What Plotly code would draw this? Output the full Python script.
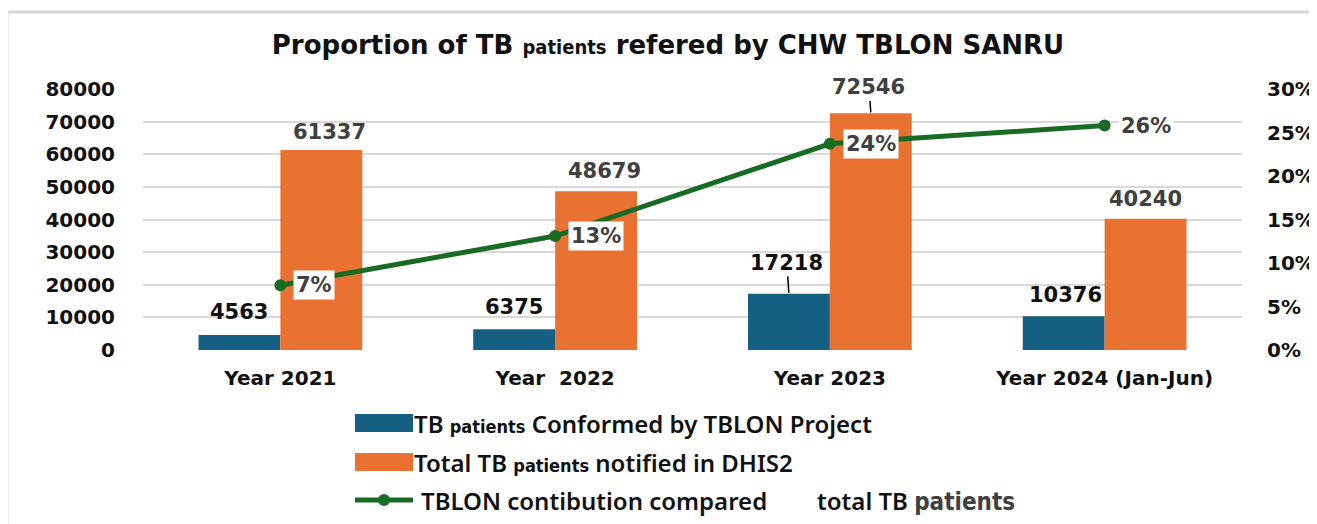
import plotly.graph_objects as go

categories = ["Year 2021", "Year\u00a0 2022", "Year 2023", "Year 2024 (Jan-Jun)"]
confirmed = [4563, 6375, 17218, 10376]
notified = [61337, 48679, 72546, 40240]
contribution = [0.0744, 0.131, 0.237, 0.258]
contribution_labels = ["7%", "13%", "24%", "26%"]

NARROW = "DejaVu Sans Condensed, Liberation Sans"
legend_names = [
    "TB <b><span style='font-family:" + NARROW + "; font-size:18px'>patients</span></b> Conformed by TBLON Project",
    "Total TB <b><span style='font-family:" + NARROW + "; font-size:18px'>patients</span></b> notified in DHIS2",
    "TBLON contibution compared\u00a0\u00a0\u00a0\u00a0\u00a0\u00a0\u00a0 total TB <b><span style='font-family:" + NARROW + "; font-size:24px; color:#404040'>patients</span></b>",
]

BLUE = "#156082"
ORANGE = "#E97132"
GREEN = "#196B24"
NUMFONT = "DejaVu Sans"

# page is offset by the 8px body margin; plot area in page pixels: x 143..1242, y 89..350
PX0, PX1, PY0, PY1 = 143, 1242, 89, 350


def px(xabs):
    return (xabs - PX0) / (PX1 - PX0)


def py(yabs):
    return (PY1 - yabs) / (PY1 - PY0)


fig = go.Figure()
fig.add_trace(go.Bar(x=categories, y=confirmed, name=legend_names[0],
                     marker=dict(color=BLUE, line=dict(width=0)), showlegend=False))
fig.add_trace(go.Bar(x=categories, y=notified, name=legend_names[1],
                     marker=dict(color=ORANGE, line=dict(width=0)), showlegend=False))
fig.add_trace(go.Scatter(x=categories, y=contribution, yaxis="y2", mode="lines+markers",
                         name=legend_names[2], line=dict(color=GREEN, width=5),
                         marker=dict(color=GREEN, size=12), showlegend=False))

lblfont_blue = dict(family=NUMFONT, size=21, color="#111111", weight="bold")
lblfont_org = dict(family=NUMFONT, size=21, color="#404040", weight="bold")

annotations = []
blue_shift = [(0, 9), (0, 8), None, (2, 7)]
for i, (c, v) in enumerate(zip(categories, confirmed)):
    if blue_shift[i] is None:
        annotations.append(dict(x=c, y=v, xref="x", yref="y", xshift=-41, text=str(v),
                                showarrow=True, ax=-2, ay=-31, arrowhead=0, arrowwidth=1.5,
                                arrowcolor="#000000", standoff=1, font=lblfont_blue))
    else:
        dx, dy = blue_shift[i]
        annotations.append(dict(x=c, y=v, xref="x", yref="y", xshift=-41 + dx, yanchor="bottom",
                                yshift=dy, text=str(v), showarrow=False, font=lblfont_blue))
org_shift = [(8, 4), (8, 6), None, (0, 6)]
for i, (c, v) in enumerate(zip(categories, notified)):
    if org_shift[i] is None:
        annotations.append(dict(x=c, y=v, xref="x", yref="y", xshift=41, text=str(v),
                                showarrow=True, ax=-2, ay=-26, arrowhead=0, arrowwidth=1.5,
                                arrowcolor="#000000", standoff=1, font=lblfont_org))
    else:
        dx, dy = org_shift[i]
        annotations.append(dict(x=c, y=v, xref="x", yref="y", xshift=41 + dx, yanchor="bottom",
                                yshift=dy, text=str(v), showarrow=False, font=lblfont_org))
for c, v, t in zip(categories, contribution, contribution_labels):
    annotations.append(dict(x=c, y=v, xref="x", yref="y2", xanchor="left", xshift=13,
                            text=t, showarrow=False, bgcolor="#ffffff", borderpad=2,
                            font=dict(family=NUMFONT, size=21, color="#404040", weight="bold")))

# custom legend (symbols + text)
legfont = dict(family="Noto Sans", size=24, color="#111111", weight=600)
shapes = [dict(type="rect", xref="paper", yref="paper",
               x0=px(7), x1=px(1340), y0=py(560), y1=py(12),
               line=dict(color="#d9d9d9", width=3), fillcolor="rgba(0,0,0,0)", layer="below")]
shapes.append(dict(type="rect", xref="paper", yref="paper", x0=px(355), x1=px(413),
                   y0=py(432), y1=py(414), line=dict(width=0), fillcolor=BLUE))
shapes.append(dict(type="rect", xref="paper", yref="paper", x0=px(355), x1=px(413),
                   y0=py(471), y1=py(453), line=dict(width=0), fillcolor=ORANGE))
shapes.append(dict(type="line", xref="paper", yref="paper", x0=px(355), x1=px(413),
                   y0=py(500), y1=py(500), line=dict(color=GREEN, width=5)))
shapes.append(dict(type="circle", xref="paper", yref="paper", x0=px(378), x1=px(390),
                   y0=py(506), y1=py(494), line=dict(width=0), fillcolor=GREEN))
for name, xabs, yabs in zip(legend_names, [412, 412, 419], [423, 462, 500]):
    annotations.append(dict(x=px(xabs), y=py(yabs), xref="paper", yref="paper",
                            xanchor="left", yanchor="middle", text=name, showarrow=False,
                            font=legfont))

fig.update_layout(
    width=1309, height=516,
    margin=dict(l=135, r=75, t=81, b=174, pad=0),
    paper_bgcolor="#ffffff", plot_bgcolor="#ffffff",
    barmode="group", bargap=0.404, bargroupgap=0,
    showlegend=False,
    title=dict(
        text="Proportion of TB <b><span style='font-family:" + NARROW + "; font-size:20px'>patients</span></b> refered by CHW TBLON SANRU",
        x=(668 - 8) / 1309, xref="container", xanchor="center",
        y=1 - (45 - 8) / 516, yref="container", yanchor="middle",
        font=dict(family="DejaVu Sans", size=26, color="#111111", weight="bold"),
    ),
    xaxis=dict(type="category", showgrid=False, showline=False, zeroline=False, ticks="",
               tickfont=dict(family=NUMFONT, size=20, color="#111111", weight="bold"),
               ticklabelstandoff=14, automargin=False),
    yaxis=dict(range=[0, 80000], dtick=10000, tickformat="d", showgrid=True,
               gridcolor="#d9d9d9", gridwidth=2, zeroline=False, showline=False, ticks="",
               tickfont=dict(family=NUMFONT, size=20, color="#111111", weight="bold"),
               ticklabelstandoff=27, automargin=False),
    yaxis2=dict(range=[0, 0.30], dtick=0.05, tickformat=".0%", overlaying="y", side="right",
                showgrid=False, zeroline=False, showline=False, ticks="",
                tickfont=dict(family=NUMFONT, size=20, color="#111111", weight="bold"),
                ticklabelstandoff=24, automargin=False),
    annotations=annotations,
    shapes=shapes,
)

fig.write_html("out.html")
